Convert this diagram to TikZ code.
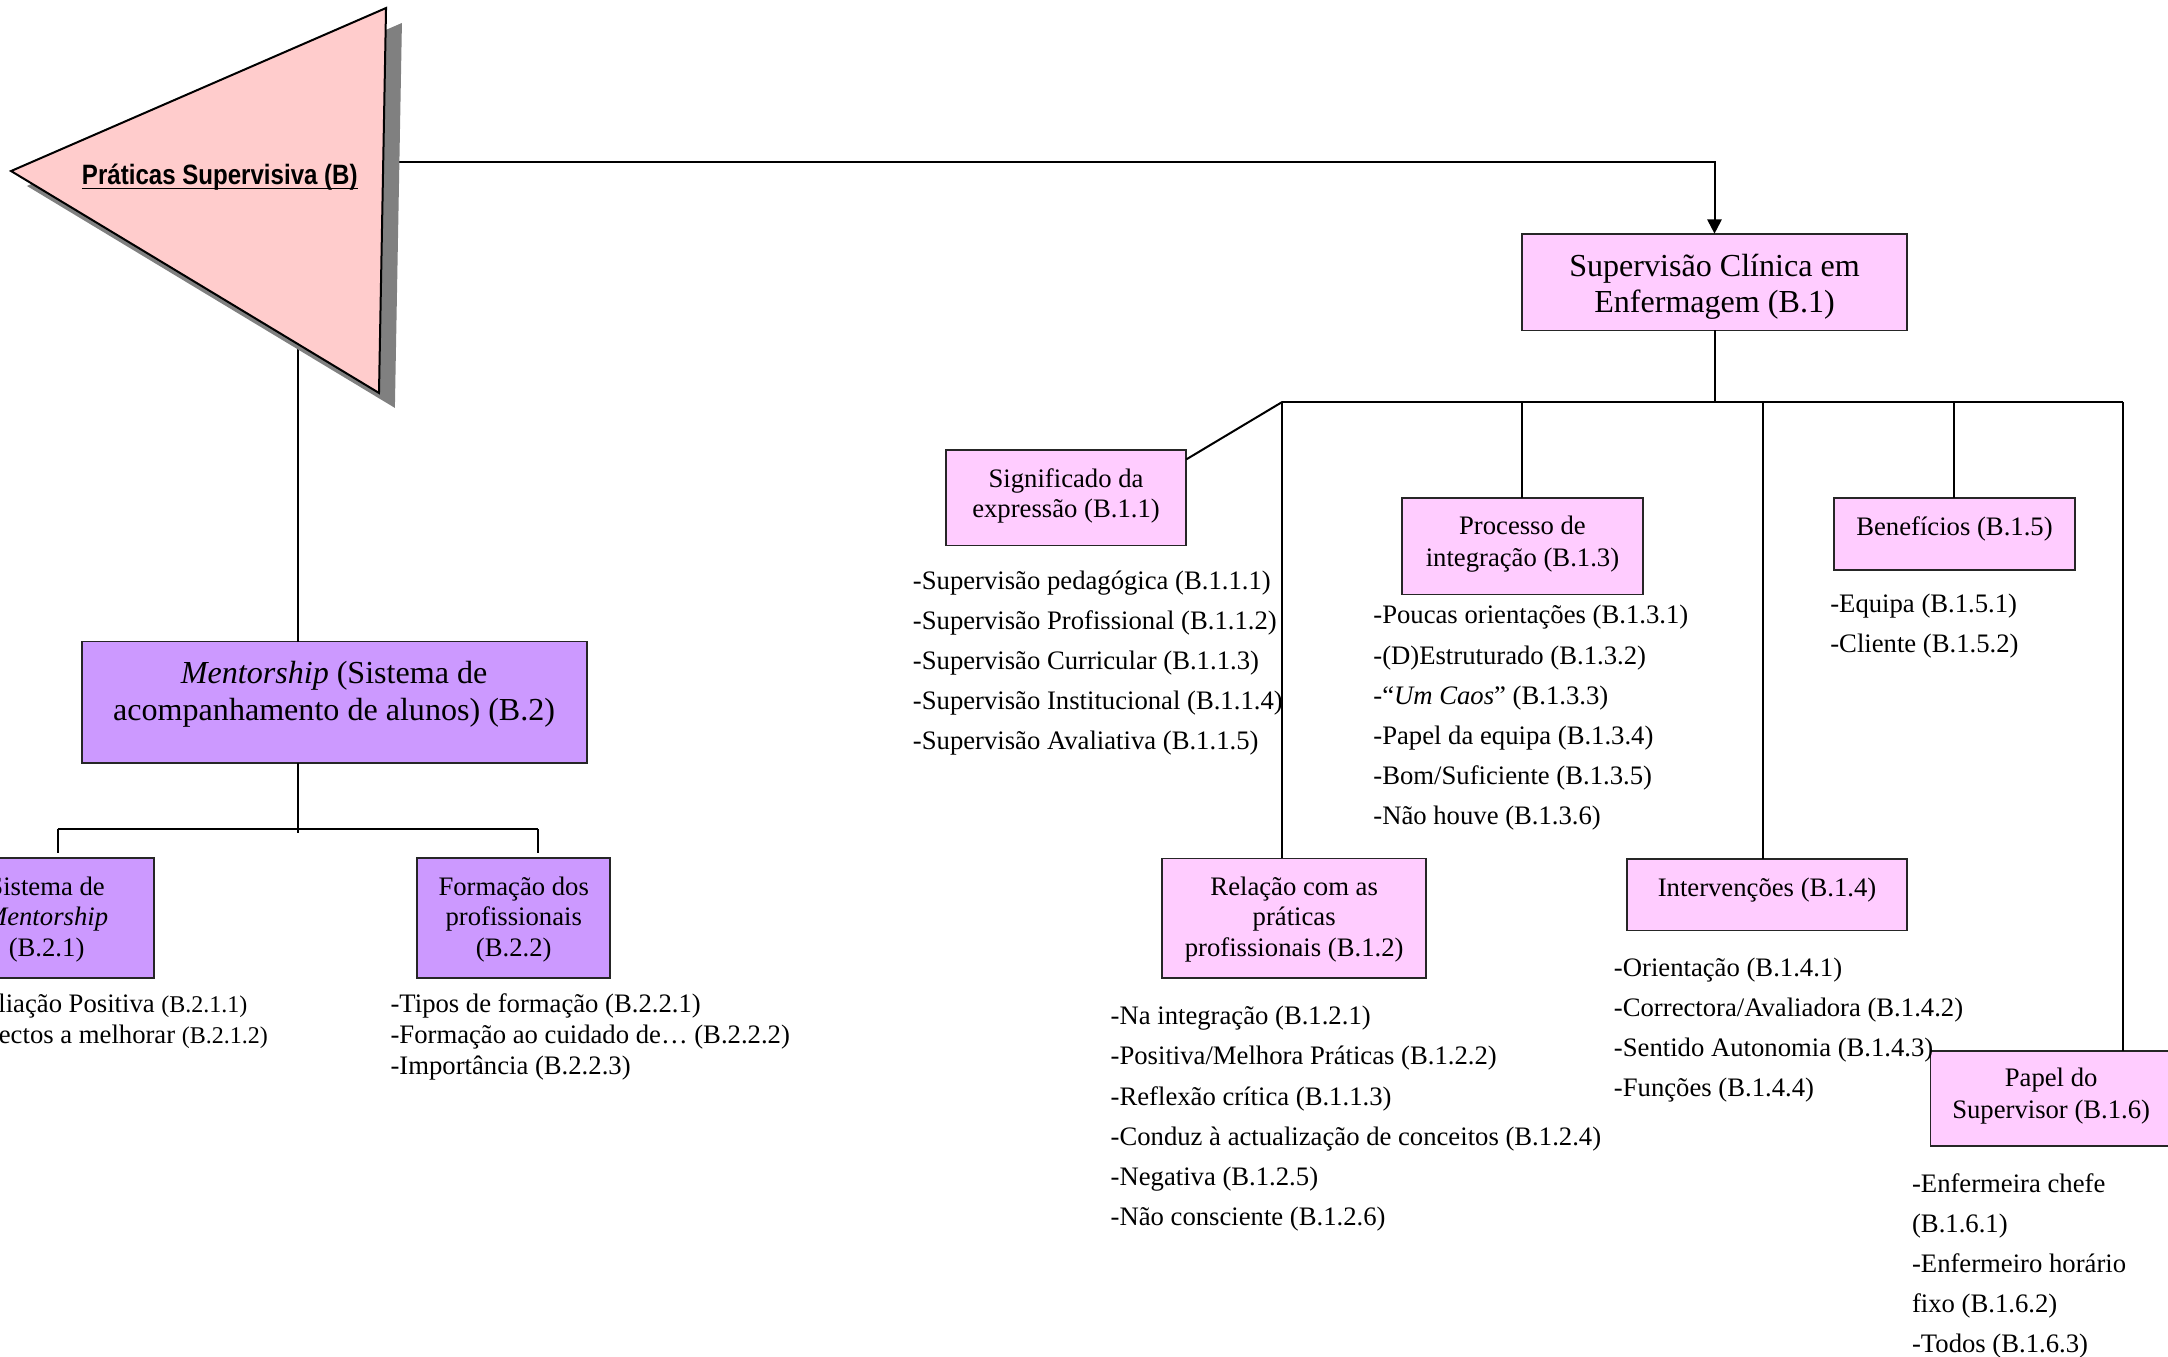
\documentclass[tikz,border=0pt]{standalone}
\usepackage{fontspec}
\setmainfont{Liberation Serif}
\newfontfamily\titlefont[FakeStretch=0.86]{Liberation Sans}
\usetikzlibrary{arrows.meta,calc}
\definecolor{pinkbox}{HTML}{FFCCFF}
\definecolor{lilac}{HTML}{CC99FF}
\definecolor{trifill}{HTML}{FFCCCC}
\definecolor{shadowgray}{HTML}{808080}
\newcommand\myul[1]{\setbox0\hbox{#1}\rlap{\rule[-2.6pt]{\wd0}{0.9pt}}\box0}
\begin{document}
\begin{tikzpicture}[x=0.69135pt,y=-0.69135pt,
  conn/.style={line width=1pt, draw=black},
  pbox/.style={draw=black!85, line width=0.9pt, fill=pinkbox, inner sep=0pt, outer sep=0pt},
  vbox/.style={pbox, fill=lilac},
  btext/.style={anchor=base, inner sep=0pt, yshift=-1pt, font=\fontsize{13.34}{16}\selectfont},
  bigtext/.style={anchor=base, inner sep=0pt, yshift=-1pt, font=\fontsize{16.04}{19}\selectfont},
  ltext/.style={anchor=base west, inner sep=0pt, yshift=-1.2pt, font=\fontsize{13.34}{16}\selectfont},
  arr/.style={-{Triangle[width=7.2pt,length=7.2pt]}}
]
\useasboundingbox (0,0) rectangle (1568,981);
\clip (0,0) rectangle (1568,981);

% boxes
\node[pbox, minimum width=192.2pt, minimum height=48.4pt] (b1) at (1240,204) {};
\node[pbox, minimum width=120.3pt, minimum height=47.8pt] (b11) at (771,360) {};
\node[pbox, minimum width=131.8pt, minimum height=59.9pt] (b12) at (936,664.15) {};
\node[pbox, minimum width=120.2pt, minimum height=48.4pt] (b13) at (1101.1,395) {};
\node[pbox, minimum width=139.7pt, minimum height=35.9pt] (b14) at (1278,647) {};
\node[pbox, minimum width=120.5pt, minimum height=36.3pt] (b15) at (1413.55,386.25) {};
\node[pbox, minimum width=120.6pt, minimum height=47.7pt] (b16) at (1483.5,794.5) {};
\node[vbox, minimum width=252.5pt, minimum height=60.6pt] (b2) at (241.65,507.8) {};
\node[vbox, minimum width=107.4pt, minimum height=60.1pt] (b21) at (33.7,664) {};
\node[vbox, minimum width=96.4pt, minimum height=60.1pt] (b22) at (371.55,664) {};

% connection points
\coordinate (trR) at (277,117.2);
\coordinate (trB) at (215.5,245);
\coordinate (busL) at (927.4,290.7);
\coordinate (busR) at (1535.2,290.7);
\coordinate (t14) at (1274.8,290.7);
\coordinate (bus2) at (215.5,602.6);
\coordinate (bus2L) at (41.7,599.6);
\coordinate (bus2R) at (389,599.6);

% connectors from the triangle (drawn beneath it)
\draw[conn, arr] (trR) -| (b1.north);
\draw[conn] (trB) -- (trB |- b2.north);

% triangle with shadow
\fill[shadowgray] ($(8,123.7)+(11.5,10.8)$) -- ($(279.2,5.8)+(11.5,10.8)$) -- ($(274.1,284.2)+(11.5,10.8)$) -- cycle;
\draw[fill=trifill, line width=1pt, line join=miter] (8,123.7) -- (279.2,5.8) -- (274.1,284.2) -- cycle;
\node[anchor=base, inner sep=0pt, font=\titlefont\bfseries\fontsize{14}{16}\selectfont] (title) at (159,133.2) {\myul{Práticas Supervisiva (B)}};

% B.1 tree
\draw[conn] (b1.south) -- (b1.south |- busL);
\draw[conn] (busL) -- (busR);
\draw[conn] (busL) -- ([yshift=-4.7pt]b11.north east);
\draw[conn] (busL) -- (busL |- b12.north);
\draw[conn] (b13.north |- busL) -- (b13.north);
\draw[conn] (t14) -- (t14 |- b14.north);
\draw[conn] (b15.north |- busL) -- (b15.north);
\draw[conn] (busR) -- (busR |- b16.north);

% B.2 tree
\draw[conn] (bus2 |- b2.south) -- (bus2);
\draw[conn] (bus2L) -- (bus2R);
\draw[conn] (bus2L) -- ([yshift=2.4pt]bus2L |- b21.north);
\draw[conn] (bus2R) -- ([yshift=2.4pt]bus2R |- b22.north);

% box texts
\node[bigtext] (b1t1) at (1240,198.5) {Supervisão Clínica em};
\node[bigtext] (b1t2) at (1240,224.7) {Enfermagem (B.1)};
\node[btext] (b11t1) at (771,351) {Significado da};
\node[btext] (b11t2) at (771,373) {expressão (B.1.1)};
\node[btext] (b12t1) at (936,646) {Relação com as};
\node[btext] (b12t2) at (936,668) {práticas};
\node[btext] (b12t3) at (936,690) {profissionais (B.1.2)};
\node[btext] (b13t1) at (1101.1,385) {Processo de};
\node[btext] (b13t2) at (1101.1,408) {integração (B.1.3)};
\node[btext] (b14t1) at (1278,647) {Intervenções (B.1.4)};
\node[btext] (b15t1) at (1413.55,386.2) {Benefícios (B.1.5)};
\node[btext] (b16t1) at (1483.5,784.7) {Papel do};
\node[btext] (b16t2) at (1483.5,807.6) {Supervisor (B.1.6)};
\node[bigtext] (b2t1) at (241.65,493) {\textit{Mentorship} (Sistema de};
\node[bigtext] (b2t2) at (241.65,520) {acompanhamento de alunos) (B.2)};
\node[btext] (b21t1) at (33.7,646) {Sistema de};
\node[btext] (b21t2) at (33.7,668) {\textit{Mentorship}};
\node[btext] (b21t3) at (33.7,690) {(B.2.1)};
\node[btext] (b22t1) at (371.55,646) {Formação dos};
\node[btext] (b22t2) at (371.55,668) {profissionais};
\node[btext] (b22t3) at (371.55,690) {(B.2.2)};

% lists
\foreach \t [count=\i] in {{-Supervisão pedagógica (B.1.1.1)},{-Supervisão Profissional (B.1.1.2)},{-Supervisão Curricular (B.1.1.3)},{-Supervisão Institucional (B.1.1.4)},{-Supervisão Avaliativa (B.1.1.5)}}
  \node[ltext] (l11-\i) at (660,{424.5+29*(\i-1)}) {\t};
\foreach \t [count=\i] in {{-Poucas orientações (B.1.3.1)},{-(D)Estruturado (B.1.3.2)},{-“\textit{Um Caos}” (B.1.3.3)},{-Papel da equipa (B.1.3.4)},{-Bom/Suficiente (B.1.3.5)},{-Não houve (B.1.3.6)}}
  \node[ltext] (l13-\i) at (993,{449.5+29*(\i-1)}) {\t};
\foreach \t [count=\i] in {{-Equipa (B.1.5.1)},{-Cliente (B.1.5.2)}}
  \node[ltext] (l15-\i) at (1323.5,{441.5+29*(\i-1)}) {\t};
\foreach \t [count=\i] in {{-Na integração (B.1.2.1)},{-Positiva/Melhora Práticas (B.1.2.2)},{-Reflexão crítica (B.1.1.3)},{-Conduz à actualização de conceitos (B.1.2.4)},{-Negativa (B.1.2.5)},{-Não consciente (B.1.2.6)}}
  \node[ltext] (l12-\i) at (803,{739.5+29*(\i-1)}) {\t};
\foreach \t [count=\i] in {{-Orientação (B.1.4.1)},{-Correctora/Avaliadora (B.1.4.2)},{-Sentido Autonomia (B.1.4.3)},{-Funções (B.1.4.4)}}
  \node[ltext] (l14-\i) at (1167,{704.5+29*(\i-1)}) {\t};
\foreach \t [count=\i] in {{-Enfermeira chefe},{(B.1.6.1)},{-Enfermeiro horário},{fixo (B.1.6.2)},{-Todos (B.1.6.3)}}
  \node[ltext] (l16-\i) at (1382.6,{860.6+29*(\i-1)}) {\t};
\foreach \t [count=\i] in {{-Avaliação Positiva {\fontsize{12}{14}\selectfont(B.2.1.1)}},{-Aspectos a melhorar {\fontsize{12}{14}\selectfont(B.2.1.2)}}}
  \node[ltext] (l21-\i) at (-38.6,{730.5+22.4*(\i-1)}) {\t};
\foreach \t [count=\i] in {{-Tipos de formação (B.2.2.1)},{-Formação ao cuidado de… (B.2.2.2)},{-Importância (B.2.2.3)}}
  \node[ltext] (l22-\i) at (282.2,{730.5+22.4*(\i-1)}) {\t};
\end{tikzpicture}
\end{document}
